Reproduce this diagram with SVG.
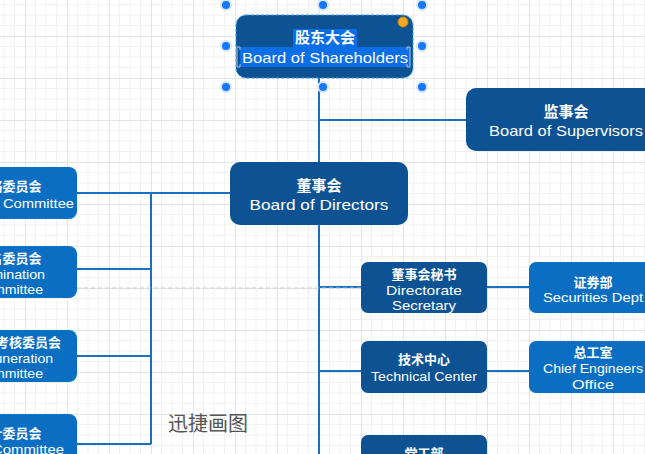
<svg xmlns="http://www.w3.org/2000/svg" width="645" height="454" viewBox="0 0 645 454">
<defs>
<pattern id="grid" patternUnits="userSpaceOnUse" x="25" y="36" width="42" height="42">
<path d="M10.5 0V42M21 0V42M31.5 0V42M0 10.5H42M0 21H42M0 31.5H42" stroke="#f1f1f1" stroke-width="1" fill="none"/>
<path d="M0.5 0V42M0 0.5H42" stroke="#e4e4e4" stroke-width="1" fill="none"/>
</pattern>
<style>
.dark{fill:#0d5393}
.light{fill:#0a6fc2}
.cn{font-family:"Noto Sans CJK SC","Liberation Sans",sans-serif;font-weight:bold;fill:#fff;text-anchor:middle}
.en{font-family:"Liberation Sans","Noto Sans CJK SC",sans-serif;fill:#fff;text-anchor:middle}
.conn{stroke:#1a6fc1;stroke-width:2;fill:none}
.handle{fill:#1677ff;stroke:#d7e6fa;stroke-width:2}
</style>
</defs>
<rect width="645" height="454" fill="#fff"/>
<rect width="645" height="454" fill="url(#grid)"/>

<g id="connectors">
<path class="conn" d="M319 78V454"/>
<path class="conn" d="M319 120H466"/>
<path class="conn" d="M230 193H151V444"/>
<path class="conn" d="M77 193H151M77 269H151M77 356H151M77 444H151"/>
<path class="conn" d="M319 287H361M487 287H529"/>
<path class="conn" d="M319 371H361M487 371H529"/>
<path d="M77 288H361" stroke="#c8c8c8" stroke-width="1" stroke-dasharray="4 3" fill="none"/>
</g>

<g id="shareholders">
<rect x="236" y="15" width="177" height="63" rx="10" class="dark"/>
<rect x="236" y="15" width="177" height="63" rx="10" fill="none" stroke="#3ea0f0" stroke-width="1" stroke-dasharray="3 2"/>
<rect x="293" y="29" width="64" height="18" fill="#0a6ee6"/>
<rect x="240" y="47" width="170" height="20" fill="#0a6ee6"/>
<path d="M240 50V47H237V67H240V64M407 50V47H410V67H407V64" stroke="#b8c4d0" stroke-width="1" fill="none"/>
<text x="325" y="43" class="cn" font-size="15">股东大会</text>
<text x="325" y="63" class="en" font-size="15" textLength="166" lengthAdjust="spacingAndGlyphs">Board of Shareholders</text>
<circle cx="403" cy="22" r="5" fill="#f5a623" stroke="#c98510" stroke-width="1"/>
<circle class="handle" cx="226" cy="5" r="5"/>
<circle class="handle" cx="323" cy="5" r="5"/>
<circle class="handle" cx="422" cy="5" r="5"/>
<circle class="handle" cx="226" cy="46" r="5"/>
<circle class="handle" cx="422" cy="46" r="5"/>
<circle class="handle" cx="226" cy="87" r="5"/>
<circle class="handle" cx="323" cy="87" r="5"/>
<circle class="handle" cx="422" cy="87" r="5"/>
</g>

<g id="supervisors">
<rect x="466" y="88" width="200" height="63" rx="10" class="dark"/>
<text x="566" y="117" class="cn" font-size="15">监事会</text>
<text x="566" y="136" class="en" font-size="15" textLength="154" lengthAdjust="spacingAndGlyphs">Board of Supervisors</text>
</g>

<g id="directors">
<rect x="230" y="162" width="178" height="63" rx="10" class="dark"/>
<text x="319" y="191" class="cn" font-size="15">董事会</text>
<text x="319" y="210" class="en" font-size="15" textLength="139" lengthAdjust="spacingAndGlyphs">Board of Directors</text>
</g>

<g id="strategy">
<rect x="-59" y="167" width="136" height="52" rx="8" class="light"/>
<text x="9" y="191" class="cn" font-size="13">战略委员会</text>
<text x="9" y="208" class="en" font-size="13" textLength="130" lengthAdjust="spacingAndGlyphs">Strategy Committee</text>
</g>

<g id="nomination">
<rect x="-59" y="246" width="136" height="52" rx="8" class="light"/>
<text x="9" y="263" class="cn" font-size="13">提名委员会</text>
<text x="9" y="279" class="en" font-size="13" textLength="72" lengthAdjust="spacingAndGlyphs">Nomination</text>
<text x="9" y="294" class="en" font-size="13" textLength="68" lengthAdjust="spacingAndGlyphs">Committee</text>
</g>

<g id="remuneration">
<rect x="-59" y="330" width="136" height="52" rx="8" class="light"/>
<text x="9" y="347" class="cn" font-size="13">薪酬与考核委员会</text>
<text x="9" y="363" class="en" font-size="13" textLength="88" lengthAdjust="spacingAndGlyphs">Remuneration</text>
<text x="9" y="378" class="en" font-size="13" textLength="68" lengthAdjust="spacingAndGlyphs">Committee</text>
</g>

<g id="audit">
<rect x="-59" y="414" width="136" height="52" rx="8" class="light"/>
<text x="9" y="438" class="cn" font-size="13">审计委员会</text>
<text x="9" y="454" class="en" font-size="13" textLength="110" lengthAdjust="spacingAndGlyphs">Audit Committee</text>
</g>

<g id="secretary">
<rect x="361" y="262" width="126" height="51" rx="7" class="dark"/>
<text x="424" y="279" class="cn" font-size="13">董事会秘书</text>
<text x="424" y="295" class="en" font-size="13" textLength="76" lengthAdjust="spacingAndGlyphs">Directorate</text>
<text x="424" y="310" class="en" font-size="13" textLength="64" lengthAdjust="spacingAndGlyphs">Secretary</text>
</g>

<g id="securities">
<rect x="529" y="262" width="128" height="51" rx="7" class="light"/>
<text x="593" y="287" class="cn" font-size="13">证券部</text>
<text x="593" y="302" class="en" font-size="13" textLength="100" lengthAdjust="spacingAndGlyphs">Securities Dept</text>
</g>

<g id="technical">
<rect x="361" y="341" width="126" height="52" rx="7" class="dark"/>
<text x="424" y="364" class="cn" font-size="13">技术中心</text>
<text x="424" y="381" class="en" font-size="13" textLength="106" lengthAdjust="spacingAndGlyphs">Technical Center</text>
</g>

<g id="chief-engineers">
<rect x="529" y="341" width="128" height="52" rx="7" class="light"/>
<text x="593" y="357" class="cn" font-size="13">总工室</text>
<text x="593" y="373" class="en" font-size="13" textLength="100" lengthAdjust="spacingAndGlyphs">Chief Engineers</text>
<text x="593" y="389" class="en" font-size="13" textLength="42" lengthAdjust="spacingAndGlyphs">Office</text>
</g>

<g id="party">
<rect x="361" y="435" width="126" height="52" rx="7" class="dark"/>
<text x="424" y="458" class="cn" font-size="13">党工部</text>
</g>

<text x="168" y="431" font-family="Noto Sans CJK SC,sans-serif" font-size="20" fill="#555">迅捷画图</text>
</svg>
